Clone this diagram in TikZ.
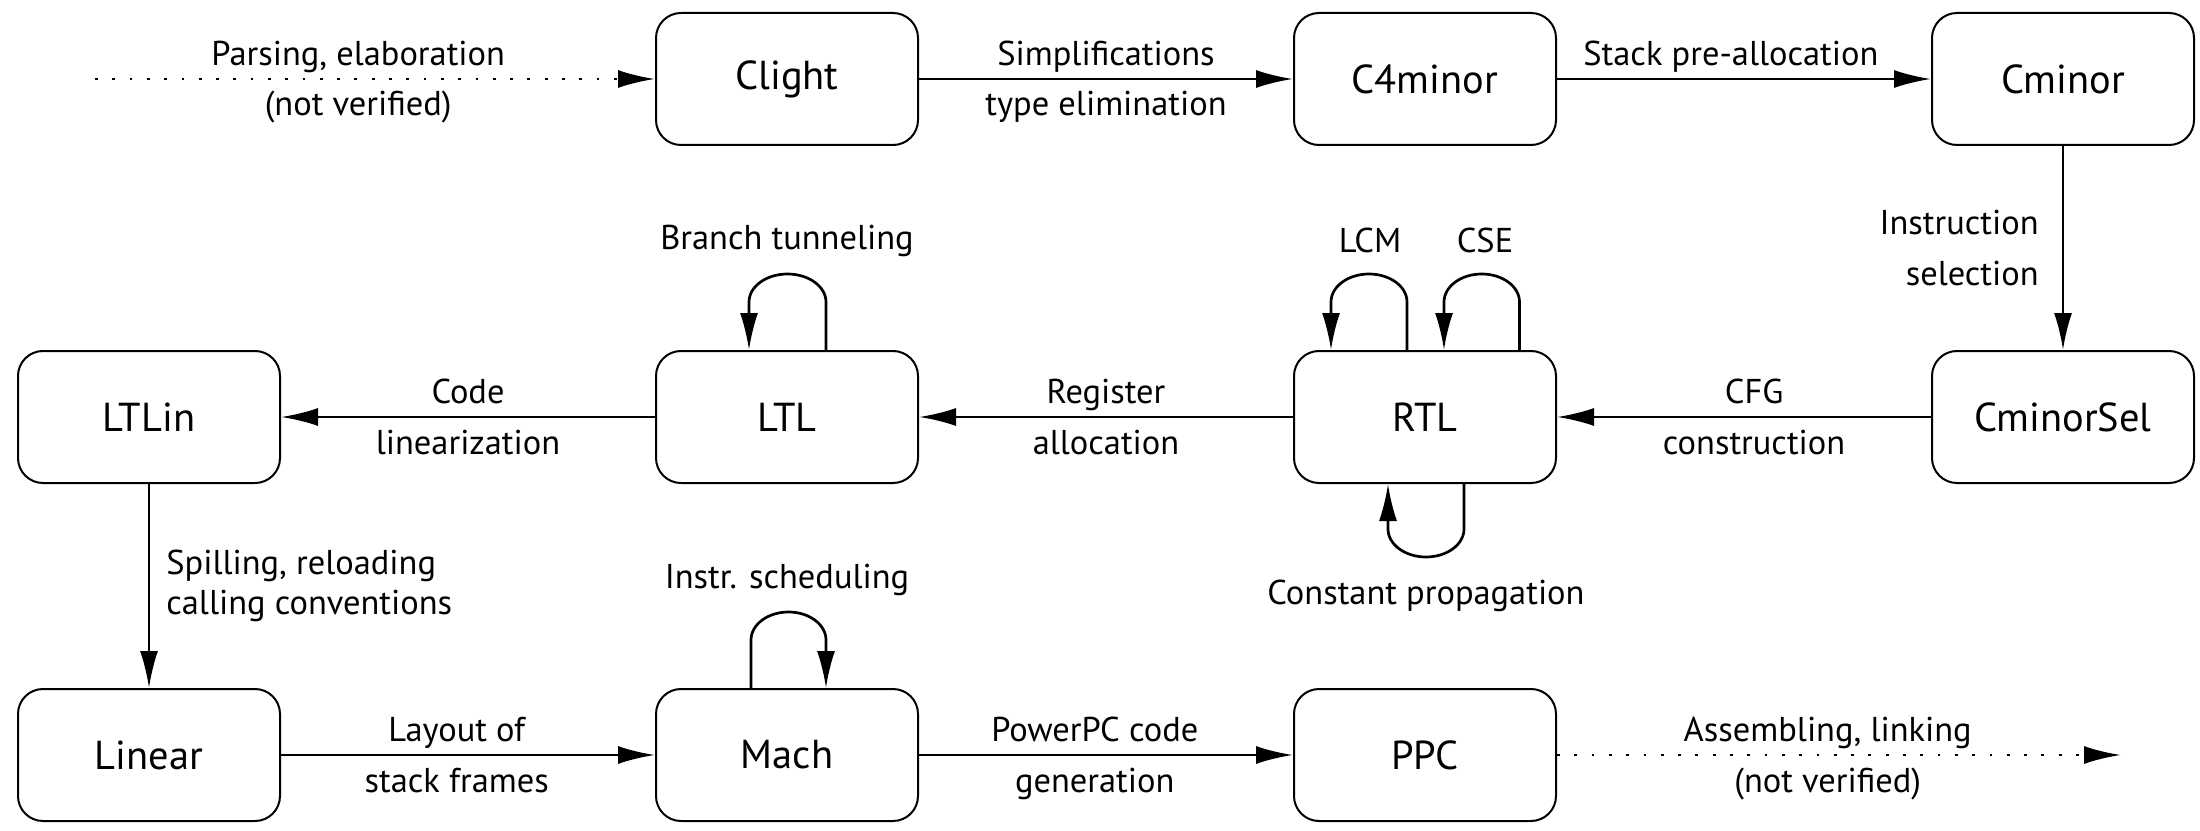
\documentclass[tikz,border=0pt]{standalone}
\usepackage{fontspec}
\setmainfont{PT Sans}
\usetikzlibrary{arrows.meta}
\tikzset{
  stage/.style={draw, line width=0.2mm, rounded corners=2.5mm, minimum width=26.2mm, minimum height=13.2mm, inner sep=0pt, font=\fontsize{11.5}{13}\selectfont},
  arr/.style={line width=0.27mm, -{Latex[length=3.7mm,width=1.8mm]}},
  dotarr/.style={arr, line width=0.28mm, dash pattern=on 0.28mm off 1.45mm},
  lbl/.style={font=\fontsize{9.8}{11}\selectfont, inner sep=0pt},
  up/.style={lbl, anchor=base, yshift=1.35mm},
  dn/.style={lbl, anchor=base, yshift=-3.7mm},
}
\begin{document}
\begin{tikzpicture}[x=0.1mm,y=0.1mm]
\useasboundingbox (0,0) rectangle (2200,830);
\node[stage] (clight) at (787,751) {Clight};
\node[stage] (c4minor) at (1425,751) {C4minor};
\node[stage] (cminor) at (2063,751) {Cminor};
\node[stage] (ltlin) at (149,413) {LTLin};
\node[stage] (ltl) at (787,413) {LTL};
\node[stage] (rtl) at (1425,413) {RTL};
\node[stage] (cminorsel) at (2063,413) {CminorSel};
\node[stage] (linear) at (149,75) {Linear};
\node[stage] (mach) at (787,75) {Mach};
\node[stage] (ppc) at (1425,75) {PPC};
\coordinate (src) at (95,751);
\coordinate (dst) at (2121,75);

\draw[dotarr] (src) -- node[up,pos=0.47]{Parsing, elaboration} node[dn,pos=0.47]{(not verified)} (clight);
\draw[arr] (clight) -- node[up]{Simplifications} node[dn]{type elimination} (c4minor);
\draw[arr] (c4minor) -- node[up,pos=0.465]{Stack pre-allocation} (cminor);
\draw[arr] (cminor) -- node[lbl, left=2.3mm, align=right, font=\fontsize{9.8}{14.5}\selectfont]{Instruction\\selection} (cminorsel);
\draw[arr] (cminorsel) -- node[up,pos=0.473]{CFG} node[dn,pos=0.473]{construction} (rtl);
\draw[arr] (rtl) -- node[up]{Register} node[dn]{allocation} (ltl);
\draw[arr] (ltl) -- node[up]{Code} node[dn]{linearization} (ltlin);
\draw[arr] (ltlin) -- node[lbl, right=1.6mm, align=left, font=\fontsize{9.8}{11.2}\selectfont]{Spilling, reloading\\calling conventions} (linear);
\draw[arr] (linear) -- node[up,pos=0.47]{Layout of} node[dn,pos=0.47]{stack frames} (mach);
\draw[arr] (mach) -- node[up,pos=0.47]{PowerPC code} node[dn,pos=0.47]{generation} (ppc);
\draw[dotarr] (ppc) -- node[up,pos=0.48]{Assembling, linking} node[dn,pos=0.48]{(not verified)} (dst);

\draw[arr] ([xshift=3.9mm]ltl.north) -- ++(0,4.8mm) arc[start angle=0,end angle=180,x radius=3.85mm,y radius=2.8mm] -- ([xshift=-3.8mm]ltl.north);
\draw[arr] ([xshift=-1.8mm]rtl.north) -- ++(0,4.8mm) arc[start angle=0,end angle=180,x radius=3.8mm,y radius=2.8mm] -- ([xshift=-9.4mm]rtl.north);
\draw[arr] ([xshift=9.45mm]rtl.north) -- ++(0,4.8mm) arc[start angle=0,end angle=180,x radius=3.775mm,y radius=2.8mm] -- ([xshift=1.9mm]rtl.north);
\draw[arr] ([xshift=3.9mm]rtl.south) -- ++(0,-4.5mm) arc[start angle=0,end angle=-180,x radius=3.8mm,y radius=2.8mm] -- ([xshift=-3.7mm]rtl.south);
\draw[arr] ([xshift=-3.6mm]mach.north) -- ++(0,4.8mm) arc[start angle=180,end angle=0,x radius=3.75mm,y radius=2.8mm] -- ([xshift=3.9mm]mach.north);

\node[lbl, anchor=base] (bt) at (787,580) {Branch tunneling};
\node[lbl, anchor=base] (lcm) at (1370,577) {LCM};
\node[lbl, anchor=base] (cse) at (1485,577) {CSE};
\node[lbl, anchor=base] (is) at (787,242) {Instr. scheduling};
\node[lbl, anchor=base] (cp) at (1426,226) {Constant propagation};
\end{tikzpicture}
\end{document}
